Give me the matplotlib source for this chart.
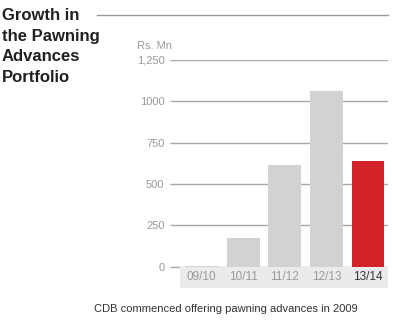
import matplotlib.pyplot as plt
from matplotlib.patches import Rectangle
from matplotlib.lines import Line2D

plt.rcParams['font.family'] = ['Liberation Sans', 'DejaVu Sans']

years = ['09/10', '10/11', '11/12', '12/13', '13/14']
portfolio = [8, 175, 614, 1060, 638]
bar_colors = ['#d1d2d4', '#d1d2d4', '#d1d2d4', '#d1d2d4', '#d2232a']
y_ticks = [0, 250, 500, 750, 1000, 1250]
y_tick_labels = ['0', '250', '500', '750', '1000', '1,250']


def main():
    fig = plt.figure(figsize=(3.93, 3.22), dpi=100)
    ax = fig.add_axes([0.4326, 0.1056, 0.5547, 0.7096])

    x = range(len(years))
    x_left, x_right = -0.757, 4.48
    band_depth = 126.5

    # horizontal gridlines behind everything
    ax.hlines(y_ticks, x_left, x_right, colors='#a7a7a7', linewidth=1.0, zorder=0)

    # light band carrying the year labels
    ax.add_patch(Rectangle((-0.517, -band_depth), x_right + 0.517, band_depth,
                           facecolor='#ebebeb', edgecolor='none', zorder=1))

    ax.bar(x, portfolio, width=0.79, color=bar_colors, zorder=2)

    for i, label in enumerate(years):
        ax.text(i, -band_depth / 2, label, ha='center', va='center', fontsize=8.5,
                color='#333333' if i == len(years) - 1 else '#9a9a9a')

    ax.set_xlim(x_left, x_right)
    ax.set_ylim(-band_depth, 1250)
    ax.set_xticks([])
    ax.set_yticks(y_ticks)
    ax.set_yticklabels(y_tick_labels)
    ax.tick_params(axis='y', length=0, pad=4, labelsize=8, labelcolor='#9a9a9a')
    for side in ax.spines.values():
        side.set_visible(False)

    fig.text(137 / 393, 1 - 46 / 322, 'Rs. Mn', fontsize=8, color='#9a9a9a',
             ha='left', va='center')

    fig.text(2 / 393, 1 - 8 / 322, 'Growth in\nthe Pawning\nAdvances\nPortfolio',
             fontsize=12, fontweight='bold', color='#231f20', ha='left', va='top',
             linespacing=1.47)

    fig.add_artist(Line2D([97 / 393, 388 / 393], [1 - 15 / 322, 1 - 15 / 322],
                          color='#9a9a9a', linewidth=1.0))

    fig.text(226 / 393, 1 - 309 / 322,
             'CDB commenced offering pawning advances in 2009',
             fontsize=8, color='#333333', ha='center', va='center')

    fig.savefig('out.png', dpi=100)


if __name__ == "__main__":
    main()
